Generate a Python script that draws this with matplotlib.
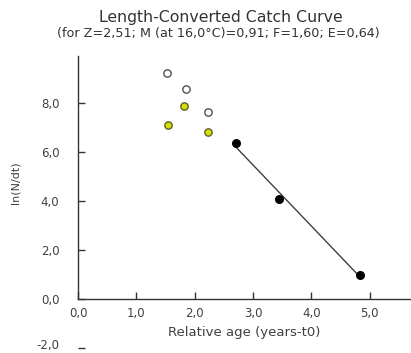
import numpy as np
import matplotlib
matplotlib.use("Agg")
import matplotlib.pyplot as plt
from matplotlib.ticker import FuncFormatter

plt.rcParams['font.family'] = ['DejaVu Sans']

# points not used in the fit (open) and excluded/partial points (yellow)
open_x = [1.53, 1.85, 2.22]
open_y = [9.22, 8.57, 7.63]
yellow_x = [1.55, 1.81, 2.23]
yellow_y = [7.10, 7.88, 6.82]
# points used in the regression
fit_x = [2.71, 3.45, 4.84]
fit_y = [6.37, 4.08, 0.98]

xticks = [0, 1, 2, 3, 4, 5]
yticks = [-2, 0, 2, 4, 6, 8]


def comma(v, pos=None):
    return ("%.1f" % v).replace('.', ',')


def ylab(v, pos):
    # lowest label is drawn separately so it stays inside the figure
    return '' if v < 0 else comma(v)


fig = plt.figure(figsize=(4.11, 3.53), dpi=100)
ax = fig.add_axes([0.19, 0.006, 0.81, 0.834])

slope, icpt = np.polyfit(fit_x, fit_y, 1)
lx = np.array([fit_x[0], fit_x[-1]])
ax.plot(lx, slope * lx + icpt, color='#404040', lw=1.0, zorder=1)

ax.scatter(open_x, open_y, s=28, facecolor='white', edgecolor='#505050', lw=1.0, zorder=3)
ax.scatter(yellow_x, yellow_y, s=28, facecolor='#d6e000', edgecolor='#606030', lw=1.0, zorder=3)
ax.scatter(fit_x, fit_y, s=30, facecolor='black', edgecolor='black', zorder=3)

ax.set_xlim(0, 5.71)
ax.set_ylim(-2.12, 9.9)
ax.spines['top'].set_visible(False)
ax.spines['right'].set_visible(False)
ax.spines['bottom'].set_position(('data', 0))
ax.spines['left'].set_bounds(0, 9.9)
for s in ('bottom', 'left'):
    ax.spines[s].set_color('#333333')
    ax.spines[s].set_linewidth(1.0)

ax.set_xticks(xticks)
ax.set_yticks(yticks)
ax.xaxis.set_major_formatter(FuncFormatter(comma))
ax.yaxis.set_major_formatter(FuncFormatter(ylab))
ax.tick_params(direction='in', length=5, width=1, color='#333333', labelsize=8.5,
               labelcolor='#404040', pad=6)
ax.tick_params(axis='y', pad=13.5)
ax.annotate(comma(min(yticks)), xy=(0, min(yticks)), xycoords=('axes fraction', 'data'),
            xytext=(-13.5, 2), textcoords='offset points', ha='right', va='center',
            fontsize=8.5, color='#404040')

ax.set_xlabel('Relative age (years-t0)', fontsize=9.5, color='#404040', labelpad=4)
ax.set_ylabel('ln(N/dt)', fontsize=8, color='#404040')
ax.yaxis.set_label_coords(-0.174, 0.57)
ax.set_facecolor('white')

fig.text(0.537, 0.95, 'Length-Converted Catch Curve', ha='center', va='center',
         fontsize=11.3, color='#333333')
fig.text(0.53, 0.905, '(for Z=2,51; M (at 16,0\u00b0C)=0,91; F=1,60; E=0,64)', ha='center',
         va='center', fontsize=9.2, color='#333333')

fig.savefig('out.png', dpi=100)
